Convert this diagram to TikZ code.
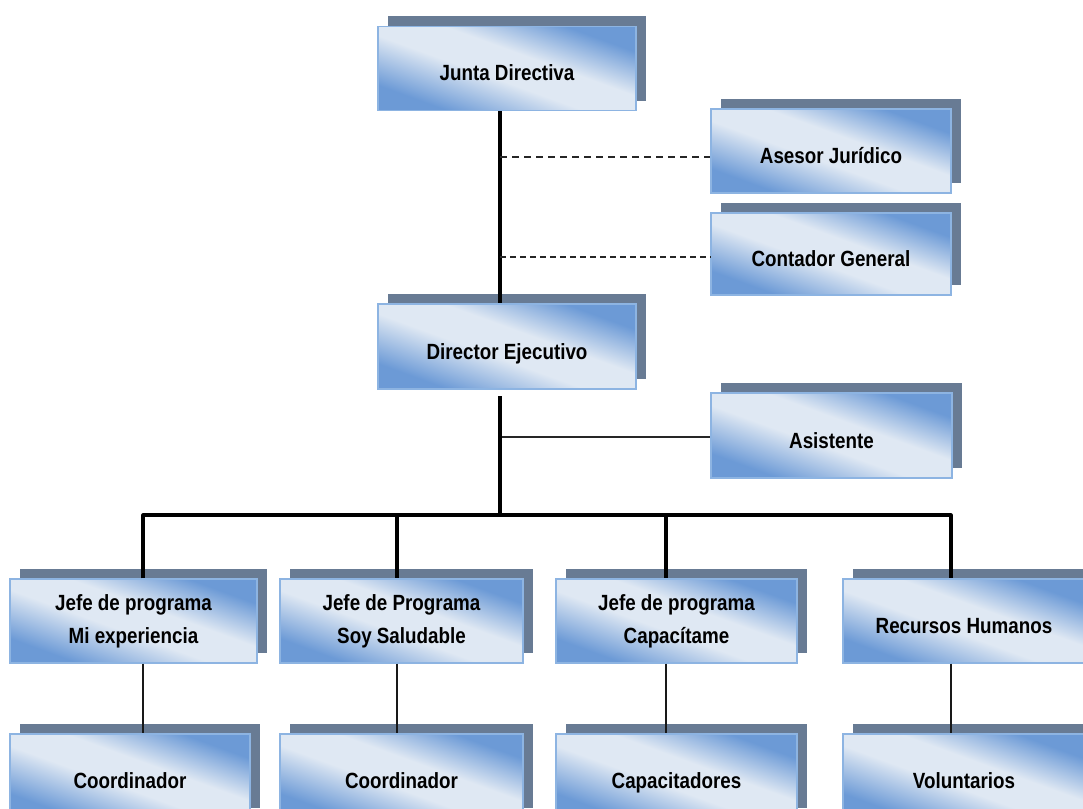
\documentclass[tikz,border=0pt]{standalone}
\usepackage{fontspec}
\setmainfont{Liberation Sans}[FakeStretch=0.855]
\usetikzlibrary{shadows}
\definecolor{shadowc}{HTML}{687B94}
\definecolor{lightc}{HTML}{DFE8F3}
\definecolor{bluec}{HTML}{6C9AD6}
\definecolor{borderc}{HTML}{8DB4E2}
\pgfdeclareverticalshading{orgshade}{100bp}{color(0bp)=(bluec); color(27bp)=(bluec); color(45bp)=(lightc); color(57bp)=(lightc); color(73bp)=(bluec); color(100bp)=(bluec)}
\tikzset{
  orgbox/.style={rectangle, draw=borderc, line width=1.3pt,
    shading=orgshade, shading angle=-20,
    minimum height=84pt, minimum width=241pt, inner sep=0pt, align=center,
    font=\fontsize{22}{33}\selectfont\bfseries, text=black,
    drop shadow={shadow xshift=10pt, shadow yshift=10pt, fill=shadowc, opacity=1}},
  onebox/.style={orgbox, text height=25pt, text depth=0pt},
  mainline/.style={draw=black, line width=3.2pt, line join=round},
  sideline/.style={draw=black!85, line width=2pt},
  subline/.style={draw=black!90, line width=1.8pt},
  dashA/.style={draw=black!85, line width=2.2pt, dash pattern=on 7pt off 5pt},
  dashB/.style={draw=black!85, line width=1.6pt, dash pattern=on 6pt off 4pt},
}
\begin{document}
\begin{tikzpicture}[x=1pt,y=-1pt]
\clip (0,0) rectangle (1083,808);
\fill[white] (0,0) rectangle (1083,808);

\node[onebox, minimum width=258pt] (jd) at (507,68.5) {Junta Directiva};
\node[onebox, minimum width=240pt] (as) at (831,151) {Asesor Jurídico};
\node[onebox, minimum width=240pt, minimum height=82pt] (cg) at (831,254) {Contador General};
\node[onebox, minimum width=258pt, minimum height=85pt] (de) at (507,346.5) {Director Ejecutivo};
\node[onebox, minimum width=241pt, minimum height=85pt] (asi) at (831.5,435.5) {Asistente};

\node[orgbox, minimum width=247pt] (j1) at (133.5,621) {Jefe de programa\\Mi experiencia};
\node[orgbox, minimum width=243pt] (j2) at (401.5,621) {Jefe de Programa\\Soy Saludable};
\node[orgbox, minimum width=241pt] (j3) at (676.5,621) {Jefe de programa\\Capacítame};
\node[onebox, minimum width=242pt] (rh) at (964,621) {Recursos Humanos};

\node[onebox, minimum width=240pt] (c1) at (130,776) {Coordinador};
\node[onebox, minimum width=243pt] (c2) at (401.5,776) {Coordinador};
\node[onebox, minimum width=241pt] (c3) at (676.5,776) {Capacitadores};
\node[onebox, minimum width=242pt] (vo) at (964,776) {Voluntarios};

\coordinate (spine) at (500,396);
\coordinate (bus) at (500,515);
\coordinate (d1) at (143,515);
\coordinate (d2) at (397,515);
\coordinate (d3) at (666,515);
\coordinate (d4) at (951,515);

\draw[mainline] (jd.south -| spine) -- (de.north -| spine);
\draw[dashA] ([yshift=-6pt]as.west -| spine) -- ([yshift=-6pt]as.west);
\draw[dashB] ([yshift=-3pt]cg.west -| spine) -- ([yshift=-3pt]cg.west);
\draw[sideline] ([yshift=-1.5pt]asi.west -| spine) -- ([yshift=-1.5pt]asi.west);
\draw[mainline] (spine) -- (bus);
\draw[mainline] (j1.north -| d1) -- (d1) -- (d4) -- (rh.north -| d4);
\draw[mainline] (d2) -- (j2.north -| d2);
\draw[mainline] (d3) -- (j3.north -| d3);

\draw[subline] (j1.south -| d1) -- (c1.north -| d1);
\draw[subline] (j2.south -| d2) -- (c2.north -| d2);
\draw[subline] (j3.south -| d3) -- (c3.north -| d3);
\draw[subline] (rh.south -| d4) -- (vo.north -| d4);
\end{tikzpicture}
\end{document}
